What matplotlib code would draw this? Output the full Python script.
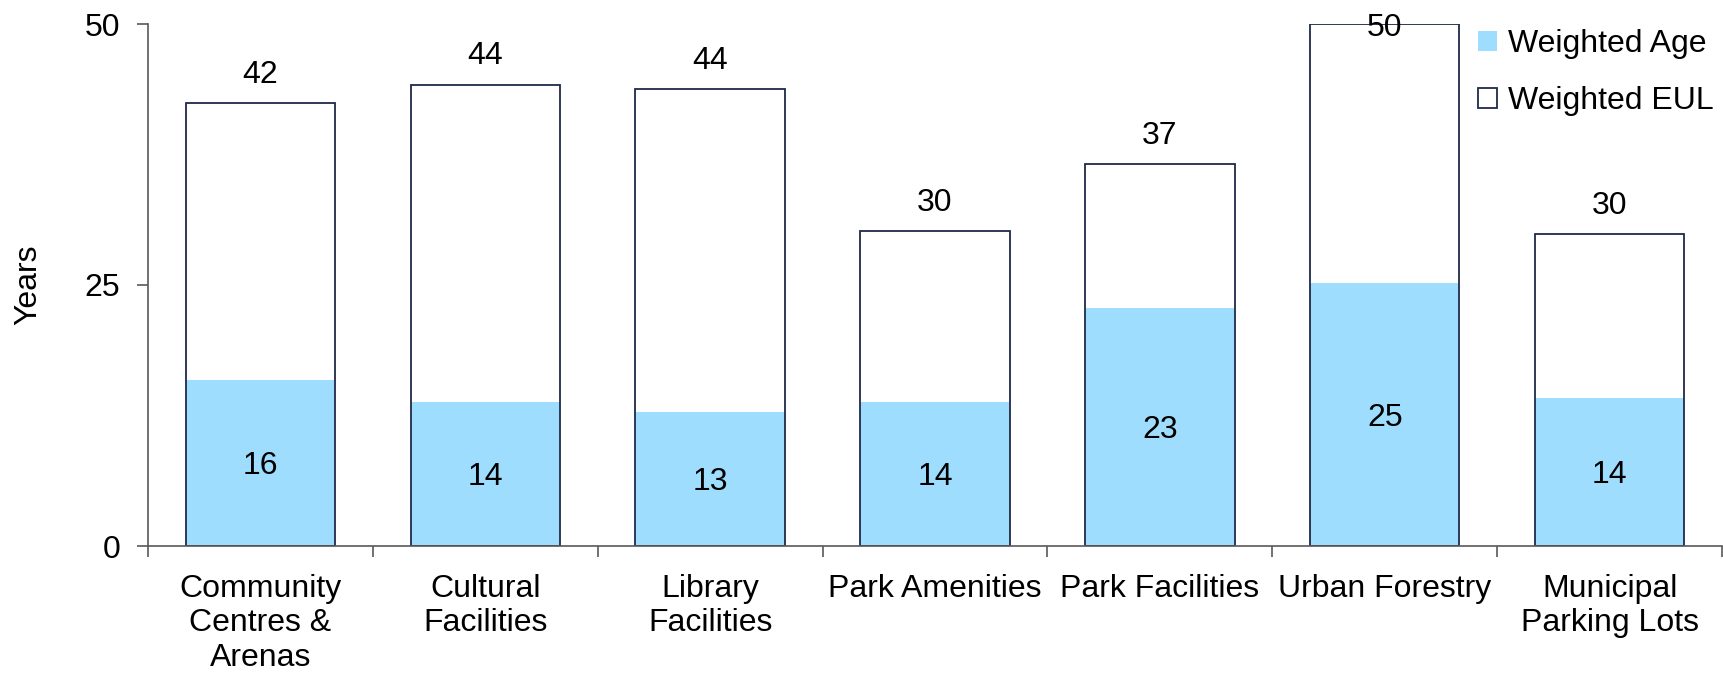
import matplotlib
matplotlib.use("Agg")
import matplotlib.pyplot as plt
import numpy as np
from matplotlib.patches import Patch

plt.rcParams['font.family'] = ['Liberation Sans', 'DejaVu Sans']

categories = ["Community\nCentres &\nArenas", "Cultural\nFacilities", "Library\nFacilities",
              "Park Amenities", "Park Facilities", "Urban Forestry", "Municipal\nParking Lots"]
weighted_eul = [42.4, 44.2, 43.8, 30.2, 36.6, 50.0, 29.9]
weighted_age = [15.9, 13.8, 12.8, 13.8, 22.8, 25.2, 14.2]
y_ticks = [0, 25, 50]

age_color = "#9EDDFD"
edge_color = "#1F2A4A"
axis_color = "#595959"
fs = 23

fig = plt.figure(figsize=(17.24, 6.73), dpi=100)
ax = fig.add_axes([148 / 1724, 1 - 546 / 673, (1722 - 148) / 1724, (546 - 24) / 673])

x = np.arange(len(categories))
w = 0.665

ax.bar(x, weighted_eul, width=w, color="white", edgecolor="none", zorder=1)
ax.bar(x, weighted_age, width=w, color=age_color, edgecolor="none", zorder=2)
ax.bar(x, weighted_eul, width=w, facecolor="none", edgecolor=edge_color, linewidth=1.3, zorder=3)

for xi, v in zip(x, weighted_eul):
    ax.text(xi, min(v + 2.7, 49.6), f"{v:.0f}", ha="center", va="center", fontsize=fs, zorder=4)
for xi, v in zip(x, weighted_age):
    ax.text(xi, v / 2 - 0.3, f"{v:.0f}", ha="center", va="center", fontsize=fs, zorder=4)

ax.set_xlim(-0.5, len(categories) - 0.5)
ax.set_ylim(0, 50)
ax.set_yticks(y_ticks)
ax.set_ylabel("Years", fontsize=fs, labelpad=30)

ax.set_xticks(x)
ax.set_xticklabels(categories, fontsize=fs, linespacing=1.2)
ax.set_xticks(np.arange(len(categories) + 1) - 0.5, minor=True)
ax.tick_params(axis="x", which="major", length=0, pad=20)
ax.tick_params(axis="x", which="minor", length=8, width=1.2, color=axis_color, direction="out")
ax.tick_params(axis="y", which="major", length=8, width=1.2, color=axis_color, pad=12, labelsize=fs)

for s in ["top", "right"]:
    ax.spines[s].set_visible(False)
for s in ["left", "bottom"]:
    ax.spines[s].set_color(axis_color)
    ax.spines[s].set_linewidth(1.2)
ax.spines["bottom"].set_zorder(5)

handles = [Patch(facecolor=age_color, edgecolor="none", label="Weighted Age"),
           Patch(facecolor="white", edgecolor=edge_color, linewidth=1.3, label="Weighted EUL")]
ax.legend(handles=handles, loc="upper right", bbox_to_anchor=(1.013, 1.045), frameon=False,
          fontsize=fs, handlelength=0.6, handleheight=0.6, handletextpad=0.35, labelspacing=0.85)

fig.savefig("out.png", dpi=100)
